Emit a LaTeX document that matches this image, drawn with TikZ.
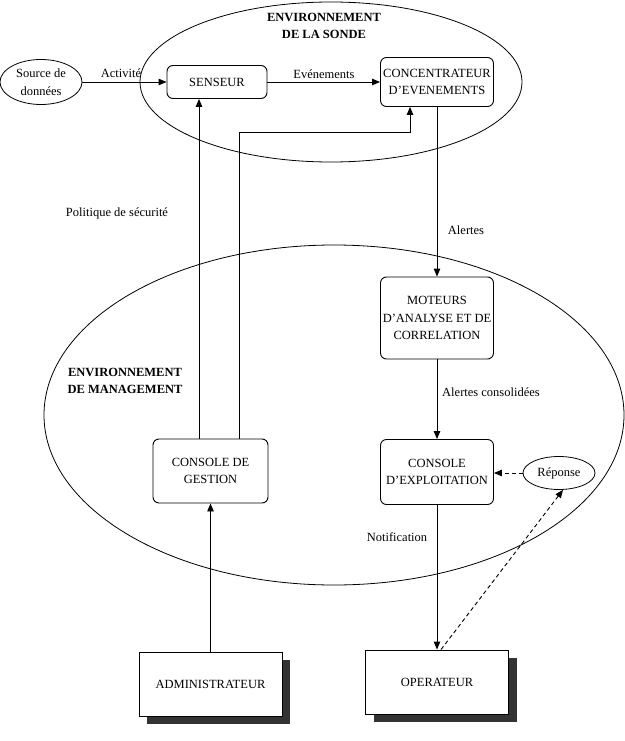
\documentclass[tikz,border=0pt]{standalone}
\usepackage{fontspec}
\setmainfont{Liberation Serif}
\usetikzlibrary{arrows.meta,shapes.geometric,shadows,calc}
\definecolor{ink}{HTML}{000000}
\definecolor{ombre}{HTML}{333333}
\tikzset{
  boite/.style={draw=ink,rounded corners=6pt,align=center,fill=white,line width=0.9pt,inner sep=2pt},
  acteur/.style={draw=ink,align=center,fill=white,line width=0.9pt,minimum width=143pt,minimum height=64pt,
    drop shadow={shadow xshift=8pt,shadow yshift=-7.5pt,fill=ombre,opacity=1,draw=none}},
  bulle/.style={draw=ink,ellipse,align=center,line width=0.8pt,inner sep=0pt},
  zone/.style={draw=ink,ellipse,line width=0.8pt,inner sep=0pt},
  fleche/.style={-{Triangle[length=8pt,width=6.5pt]},line width=0.9pt,color=ink},
  fleched/.style={fleche,dash pattern=on 4pt off 3pt},
  etiquette/.style={inner sep=0pt},
  titre/.style={font=\fontsize{12.5}{17.5}\selectfont\bfseries,align=center,inner sep=0pt},
}

\begin{document}
\begin{tikzpicture}[x=1pt,y=-1pt,font=\fontsize{12.5}{17.5}\selectfont]
  \useasboundingbox (0,0) rectangle (624,741);
  \node[zone,minimum width=382pt,minimum height=160pt] (sonde) at (331,82) {};
  \node[zone,minimum width=580pt,minimum height=340pt] (mgmt) at (334,415) {};
  \node[titre] (tsonde) at (324,26) {ENVIRONNEMENT\\DE LA SONDE};
  \node[titre] (tmgmt) at (125,381) {ENVIRONNEMENT\\DE MANAGEMENT};
  \node[bulle,minimum width=82pt,minimum height=45pt] (src) at (41,82) {Source de\\données};
  \node[boite,minimum width=100pt,minimum height=33pt] (senseur) at (217,82) {SENSEUR};
  \node[boite,minimum width=113pt,minimum height=49pt] (conc) at (437,82) {CONCENTRATEUR\\D’EVENEMENTS};
  \node[boite,minimum width=113pt,minimum height=82pt] (moteurs) at (437,318) {MOTEURS\\D’ANALYSE ET DE\\CORRELATION};
  \node[boite,minimum width=113pt,minimum height=65pt] (cexp) at (437,472) {CONSOLE\\D’EXPLOITATION};
  \node[boite,minimum width=115pt,minimum height=64pt] (cgest) at (210.5,471) {CONSOLE DE\\GESTION};
  \node[bulle,minimum width=72pt,minimum height=33pt] (reponse) at (559,473) {Réponse};
  \node[acteur] (admin) at (210.5,684) {ADMINISTRATEUR};
  \node[acteur] (oper) at (437,682) {OPERATEUR};
  \node[etiquette] (lact) at (121,73) {Activité};
  \node[etiquette] (lev) at (324,74) {Evénements};
  \node[etiquette] (lpol) at (117,213) {Politique de sécurité};
  \node[etiquette] (lal) at (466,230) {Alertes};
  \node[etiquette,anchor=west] (lcons) at (442,392) {Alertes consolidées};
  \node[etiquette] (lnot) at (397,537) {Notification};
  \foreach \a/\b in {src/senseur,senseur/conc,conc/moteurs,moteurs/cexp,cexp/oper,admin/cgest}
    \draw[fleche] (\a) -- (\b);
  \draw[fleche] ([xshift=-11.5pt]cgest.north) -- ([xshift=-11.5pt]cgest.north |- senseur.south);
  \draw[fleche] ([xshift=28.5pt]cgest.north) |- ([xshift=-27pt,yshift=-26pt]conc.south) -- ([xshift=-27pt]conc.south);
  \draw[fleched] (reponse) -- (cexp.east |- reponse);
  \draw[fleched] ([xshift=4pt]oper.north) -- ([xshift=4pt]reponse.south);
\end{tikzpicture}
\end{document}
